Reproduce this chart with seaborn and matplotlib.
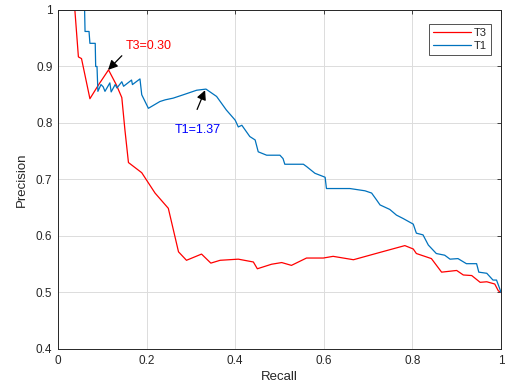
import pandas as pd
import matplotlib
matplotlib.use('Agg')
import matplotlib.pyplot as plt
import seaborn as sns

# T3 curve (recall, precision)
t3_recall = [0.038, 0.046, 0.053, 0.072, 0.091, 0.114, 0.132, 0.144, 0.151, 0.159,
             0.189, 0.219, 0.249, 0.272, 0.290, 0.324, 0.345, 0.366, 0.407, 0.441,
             0.450, 0.482, 0.505, 0.527, 0.561, 0.599, 0.621, 0.667, 0.727, 0.783,
             0.802, 0.809, 0.843, 0.866, 0.900, 0.915, 0.934, 0.953, 0.968, 0.986,
             0.994, 1.0]
t3_precision = [1.0, 0.917, 0.914, 0.843, 0.867, 0.894, 0.867, 0.845, 0.788, 0.730,
                0.712, 0.676, 0.649, 0.572, 0.557, 0.568, 0.552, 0.557, 0.559, 0.554,
                0.542, 0.550, 0.553, 0.548, 0.561, 0.561, 0.564, 0.558, 0.571, 0.583,
                0.577, 0.569, 0.560, 0.536, 0.539, 0.531, 0.530, 0.518, 0.519, 0.515,
                0.503, 0.5]

# T1 curve (recall, precision)
t1_recall = [0.0, 0.060, 0.061, 0.070, 0.072, 0.084, 0.085, 0.088, 0.090, 0.097,
             0.102, 0.106, 0.117, 0.120, 0.129, 0.133, 0.144, 0.148, 0.166, 0.168,
             0.185, 0.189, 0.204, 0.230, 0.242, 0.260, 0.283, 0.313, 0.334, 0.358,
             0.380, 0.400, 0.407, 0.415, 0.433, 0.445, 0.452, 0.471, 0.501, 0.508,
             0.512, 0.554, 0.561, 0.580, 0.603, 0.606, 0.637, 0.659, 0.693, 0.708,
             0.719, 0.727, 0.749, 0.764, 0.779, 0.802, 0.809, 0.824, 0.836, 0.854,
             0.873, 0.885, 0.903, 0.922, 0.945, 0.950, 0.968, 0.982, 0.990, 0.998, 1.0]
t1_precision = [1.0, 1.0, 0.962, 0.962, 0.941, 0.941, 0.900, 0.900, 0.856, 0.868,
                0.864, 0.856, 0.871, 0.855, 0.868, 0.862, 0.873, 0.865, 0.876, 0.868,
                0.878, 0.850, 0.826, 0.838, 0.841, 0.844, 0.850, 0.858, 0.860, 0.847,
                0.823, 0.805, 0.793, 0.796, 0.776, 0.770, 0.749, 0.743, 0.743, 0.737,
                0.727, 0.727, 0.723, 0.711, 0.704, 0.684, 0.684, 0.684, 0.680, 0.676,
                0.664, 0.655, 0.647, 0.637, 0.631, 0.621, 0.605, 0.602, 0.584, 0.569,
                0.566, 0.559, 0.560, 0.551, 0.551, 0.536, 0.534, 0.522, 0.522, 0.505, 0.5]

df = pd.concat([
    pd.DataFrame({'Recall': t3_recall, 'Precision': t3_precision, 'curve': 'T3'}),
    pd.DataFrame({'Recall': t1_recall, 'Precision': t1_precision, 'curve': 'T1'}),
])

sns.set_style('white')
plt.rcParams['font.family'] = ['Liberation Sans', 'DejaVu Sans']

fig = plt.figure(figsize=(5.05, 3.92), dpi=100)
ax = fig.add_axes([0.1149, 0.1097, 0.8771, 0.8648])

sns.lineplot(data=df, x='Recall', y='Precision', hue='curve', sort=False,
             palette={'T3': '#FF0000', 'T1': '#0072BD'}, linewidth=0.9, ax=ax,
             estimator=None)

ax.set_xlim(0, 1)
ax.set_ylim(0.4, 1)
ax.set_xticks([0, 0.2, 0.4, 0.6, 0.8, 1])
ax.set_xticklabels(['0', '0.2', '0.4', '0.6', '0.8', '1'])
ax.set_yticks([0.4, 0.5, 0.6, 0.7, 0.8, 0.9, 1])
ax.set_yticklabels(['0.4', '0.5', '0.6', '0.7', '0.8', '0.9', '1'])
ax.grid(True, color='#DCDCDC', linewidth=0.7)
ax.tick_params(direction='in', top=True, right=True, labelsize=8.5,
               length=3, width=0.6, colors='#262626', pad=4)
for s in ax.spines.values():
    s.set_color('#262626')
    s.set_linewidth(0.7)
ax.set_xlabel('Recall', fontsize=9.5, color='#262626', labelpad=3)
ax.set_ylabel('Precision', fontsize=9.5, color='#262626', labelpad=6)

# text labels and arrows
ax.text(0.152, 0.936, 'T3=0.30', color='#FF0000', fontsize=9, ha='left', va='center')
ax.annotate('', xy=(0.113, 0.894), xytext=(0.144, 0.919),
            arrowprops=dict(arrowstyle='-|>', color='black', lw=0.9,
                            mutation_scale=14, shrinkA=0, shrinkB=0))
ax.text(0.264, 0.788, 'T1=1.37', color='#0000FF', fontsize=9, ha='left', va='center')
ax.annotate('', xy=(0.332, 0.858), xytext=(0.314, 0.824),
            arrowprops=dict(arrowstyle='-|>', color='black', lw=0.9,
                            mutation_scale=14, shrinkA=0, shrinkB=0))

leg = ax.legend(loc='upper right', bbox_to_anchor=(0.99, 0.975), fontsize=8,
                frameon=True, fancybox=False, handlelength=3.4,
                borderpad=0.35, labelspacing=0.25, handletextpad=0.3)
leg.get_frame().set_edgecolor('#262626')
leg.get_frame().set_linewidth(0.7)
leg.set_title(None)

fig.savefig('out.png', dpi=100)
